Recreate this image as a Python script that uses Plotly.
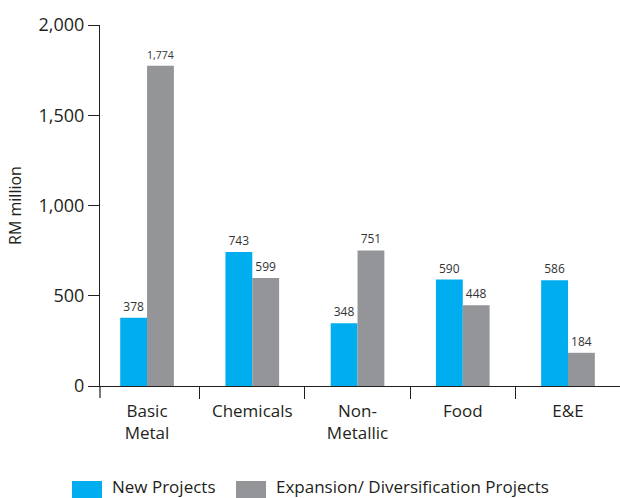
import plotly.graph_objects as go

# Investment by industry, RM million
categories = ["Basic<br>Metal", "Chemicals", "Non-<br>Metallic", "Food", "E&E"]
new_projects = [378, 743, 348, 590, 586]
expansion_projects = [1774, 599, 751, 448, 184]
y_ticks = [0, 500, 1000, 1500, 2000]
series_names = ["New Projects", "Expansion/ Diversification Projects"]

BLUE = "#00AEEF"
GREY = "#939598"
INK = "#231F20"
FONT = "Open Sans"

W, H = 620, 498
L, R, T, B = 100, 0, 25, 112
PW, PH = W - L - R, H - T - B


def px(x):
    return (x - L) / PW


def py(y):
    return (H - B - y) / PH


fig = go.Figure()
for name, vals, col in [(series_names[0], new_projects, BLUE),
                        (series_names[1], expansion_projects, GREY)]:
    fig.add_trace(go.Bar(
        x=categories, y=vals, name=name, marker=dict(color=col, line=dict(width=0)),
        texttemplate="%{y:,}", textposition="outside",
        textfont=dict(size=12, color="#333333", family=FONT),
        cliponaxis=False, showlegend=False,
    ))

fig.update_layout(
    width=W, height=H, margin=dict(l=L, r=R, t=T, b=B),
    paper_bgcolor="white", plot_bgcolor="white",
    barmode="group", bargap=0.49, bargroupgap=0,
    font=dict(family=FONT, color=INK),
    xaxis=dict(
        type="category", range=[-0.447, 4.494],
        showline=True, linecolor=INK, linewidth=1.2,
        ticks="outside", tickson="boundaries", ticklen=12, tickcolor=INK, tickwidth=1.2,
        tickfont=dict(size=17, color=INK), ticklabelstandoff=9,
        showgrid=False, zeroline=False,
    ),
    yaxis=dict(
        range=[0, 2000], tickvals=y_ticks, tickformat=",",
        showline=True, linecolor=INK, linewidth=1.2,
        ticks="outside", ticklen=11, tickcolor=INK, tickwidth=1.2,
        tickfont=dict(size=18, color=INK), showgrid=False, zeroline=False,
        title=dict(text="RM million", font=dict(size=16, color=INK), standoff=12),
    ),
)

# y-axis line continues below the baseline as the first category boundary
fig.add_shape(type="line", xref="paper", yref="paper",
              x0=0, x1=0, y0=0, y1=py(398), line=dict(color=INK, width=1.2))

# Legend drawn along the bottom edge
legend_items = [(72, 102, 110, BLUE, series_names[0]),
                (236, 266, 274, GREY, series_names[1])]
for x0, x1, tx, col, label in legend_items:
    fig.add_shape(type="rect", xref="paper", yref="paper",
                  x0=px(x0), x1=px(x1), y0=py(481), y1=py(505),
                  fillcolor=col, line=dict(width=0), layer="above")
    fig.add_annotation(xref="paper", yref="paper", x=px(tx), y=py(486),
                       xanchor="left", yanchor="middle", showarrow=False,
                       text=label, font=dict(size=17, color=INK, family=FONT))

fig.write_html("out.html")
